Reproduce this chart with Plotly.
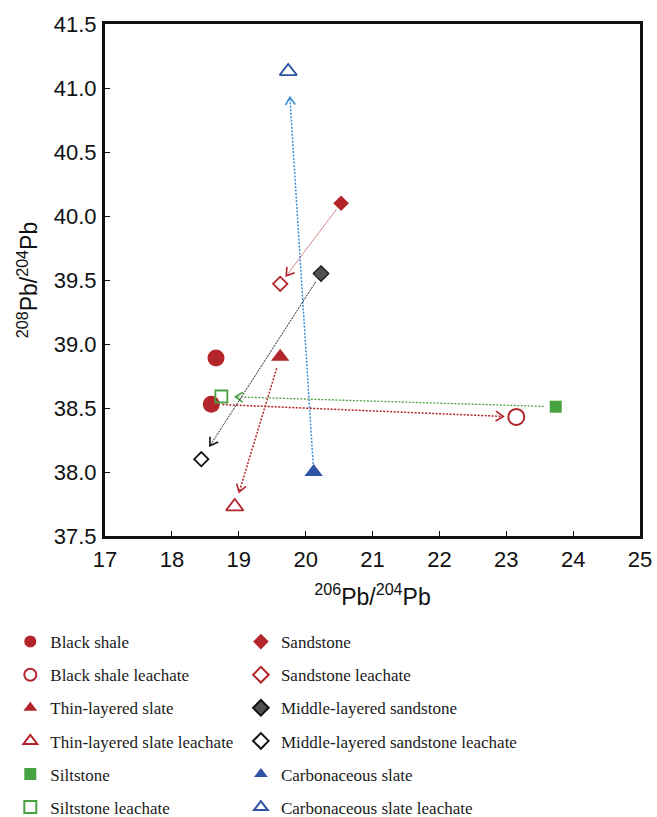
import math
import plotly.graph_objects as go

# ---- data (206Pb/204Pb, 208Pb/204Pb) ----
black_shale_x = [18.66, 18.59]
black_shale_y = [38.89, 38.53]
black_shale_leach_x = [23.15]
black_shale_leach_y = [38.43]
thin_slate_x = [19.62]
thin_slate_y = [38.90]
thin_slate_leach_x = [18.94]
thin_slate_leach_y = [37.73]
siltstone_x = [23.74]
siltstone_y = [38.51]
siltstone_leach_x = [18.74]
siltstone_leach_y = [38.59]
sandstone_x = [20.53]
sandstone_y = [40.10]
sandstone_leach_x = [19.62]
sandstone_leach_y = [39.47]
mid_sandstone_x = [20.23]
mid_sandstone_y = [39.55]
mid_sandstone_leach_x = [18.44]
mid_sandstone_leach_y = [38.10]
carb_slate_x = [20.12]
carb_slate_y = [38.00]
carb_slate_leach_x = [19.74]
carb_slate_leach_y = [41.13]

x_range = [17, 25]
y_range = [37.5, 41.5]
x_ticks = [17, 18, 19, 20, 21, 22, 23, 24, 25]
y_ticks = [37.5, 38.0, 38.5, 39.0, 39.5, 40.0, 40.5, 41.0, 41.5]

RED = "#b3242b"
GREEN = "#48a23f"
BLUE = "#2f53a5"
LBLUE = "#3d8fd4"

W, H = 657, 817
ML, MR, MT, MB = 105, 17, 24, 281
PW, PH = W - ML - MR, H - MT - MB
SX = PW / (x_range[1] - x_range[0])
SY = PH / (y_range[1] - y_range[0])

fig = go.Figure()

# ---- arrows (sample -> leachate) ----
def add_arrow(x0, y0, x1, y1, g0, g1, color, dash, width):
    dx = (x1 - x0) * SX
    dy = (y1 - y0) * SY
    L = math.hypot(dx, dy)
    ux, uy = dx / L, dy / L
    sx = x0 + ux * g0 / SX
    sy = y0 + uy * g0 / SY
    tx = x1 - ux * g1 / SX
    ty = y1 - uy * g1 / SY
    fig.add_trace(go.Scatter(x=[sx, tx], y=[sy, ty], mode="lines",
                             line=dict(color=color, width=width, dash=dash),
                             showlegend=False, hoverinfo="skip"))
    arm = 9
    ang = math.radians(33)
    pts_x, pts_y = [], []
    for s in (1, -1):
        bx = -ux * math.cos(ang) - s * (-uy) * math.sin(ang)
        by = -uy * math.cos(ang) + s * (-ux) * math.sin(ang)
        pts_x.append(tx + bx * arm / SX)
        pts_y.append(ty + by * arm / SY)
    fig.add_trace(go.Scatter(x=[pts_x[0], tx, pts_x[1]], y=[pts_y[0], ty, pts_y[1]],
                             mode="lines", line=dict(color=color, width=1.6),
                             showlegend=False, hoverinfo="skip"))

add_arrow(black_shale_x[1], black_shale_y[1], black_shale_leach_x[0], black_shale_leach_y[0], 11, 13, RED, "2px,1.5px", 1.5)
add_arrow(siltstone_x[0], siltstone_y[0], siltstone_leach_x[0], siltstone_leach_y[0], 12, 14, GREEN, "2px,1.5px", 1.3)
add_arrow(thin_slate_x[0], thin_slate_y[0], thin_slate_leach_x[0], thin_slate_leach_y[0], 12, 15, RED, "2px,1.5px", 1.5)
add_arrow(carb_slate_x[0], carb_slate_y[0], carb_slate_leach_x[0], carb_slate_leach_y[0], 8, 26, LBLUE, "2px,1.5px", 1.5)
add_arrow(sandstone_x[0], sandstone_y[0], sandstone_leach_x[0], sandstone_leach_y[0], 8, 10, RED, "1.5px,1px", 0.9)
add_arrow(mid_sandstone_x[0], mid_sandstone_y[0], mid_sandstone_leach_x[0], mid_sandstone_leach_y[0], 10, 16, "#111111", "2px,1px", 0.9)

# ---- markers ----
def add_pts(x, y, name, symbol, size, fill, edge, lw, legend, group):
    fig.add_trace(go.Scatter(
        x=x, y=y, mode="markers", name=name, legend=legend, legendgroup=group,
        marker=dict(symbol=symbol, size=size, color=fill, line=dict(color=edge, width=lw))))

add_pts(black_shale_x, black_shale_y, "Black shale", "circle", 17, RED, RED, 0, "legend", "a1")
add_pts(black_shale_leach_x, black_shale_leach_y, "Black shale leachate", "circle-open", 16, RED, RED, 2, "legend", "a2")
add_pts(thin_slate_x, thin_slate_y, "Thin-layered slate", "triangle-up", 16, RED, RED, 0, "legend", "a3")
add_pts(thin_slate_leach_x, thin_slate_leach_y, "Thin-layered slate leachate", "triangle-up-open", 15, RED, RED, 1.8, "legend", "a4")
add_pts(siltstone_x, siltstone_y, "Siltstone", "square", 12, GREEN, GREEN, 0, "legend", "a5")
add_pts(siltstone_leach_x, siltstone_leach_y, "Siltstone leachate", "square-open", 12, GREEN, GREEN, 1.8, "legend", "a6")
add_pts(sandstone_x, sandstone_y, "Sandstone", "diamond", 12, RED, RED, 0, "legend2", "b1")
add_pts(sandstone_leach_x, sandstone_leach_y, "Sandstone leachate", "diamond-open", 11, RED, RED, 1.8, "legend2", "b2")
add_pts(mid_sandstone_x, mid_sandstone_y, "Middle-layered sandstone", "diamond", 12, "#505050", "#111111", 1.2, "legend2", "b3")
add_pts(mid_sandstone_leach_x, mid_sandstone_leach_y, "Middle-layered sandstone leachate", "diamond-open", 11, "#111111", "#111111", 1.8, "legend2", "b4")
add_pts(carb_slate_x, carb_slate_y, "Carbonaceous slate", "triangle-up", 16, BLUE, BLUE, 0, "legend2", "b5")
add_pts(carb_slate_leach_x, carb_slate_leach_y, "Carbonaceous slate leachate", "triangle-up-open", 15, BLUE, BLUE, 1.8, "legend2", "b6")

axis_common = dict(showline=True, linecolor="#111111", linewidth=3, mirror=True,
                   ticks="inside", ticklen=5, tickwidth=1.2, tickcolor="#111111",
                   showgrid=False, zeroline=False, automargin=False,
                   tickfont=dict(family="Liberation Sans, Arial", size=22, color="#111111"))

leg_font = dict(family="Liberation Serif, Times New Roman", size=17, color="#1a1a1a")

fig.update_layout(
    width=W, height=H,
    margin=dict(l=ML, r=MR, t=MT, b=MB, autoexpand=False),
    paper_bgcolor="white", plot_bgcolor="white",
    xaxis=dict(range=x_range, tickvals=x_ticks, ticktext=[str(v) for v in x_ticks],
               title=dict(text="<sup>206</sup>Pb/<sup>204</sup>Pb", standoff=18,
                          font=dict(family="Liberation Sans, Arial", size=23, color="#111111")),
               ticklabelstandoff=2, **axis_common),
    yaxis=dict(range=y_range, tickvals=y_ticks, ticktext=[f"{v:.1f}" for v in y_ticks],
               title=dict(text="<sup>208</sup>Pb/<sup>204</sup>Pb", standoff=10,
                          font=dict(family="Liberation Sans, Arial", size=23, color="#111111")),
               ticklabelstandoff=1, **axis_common),
    legend=dict(x=-0.177, y=-0.172, xanchor="left", yanchor="top", orientation="v",
                font=leg_font, tracegroupgap=8, bgcolor="rgba(0,0,0,0)", itemsizing="constant"),
    legend2=dict(x=0.254, y=-0.172, xanchor="left", yanchor="top", orientation="v",
                 font=leg_font, tracegroupgap=8, bgcolor="rgba(0,0,0,0)", itemsizing="constant"),
    showlegend=True,
)

fig.write_html("out.html")
